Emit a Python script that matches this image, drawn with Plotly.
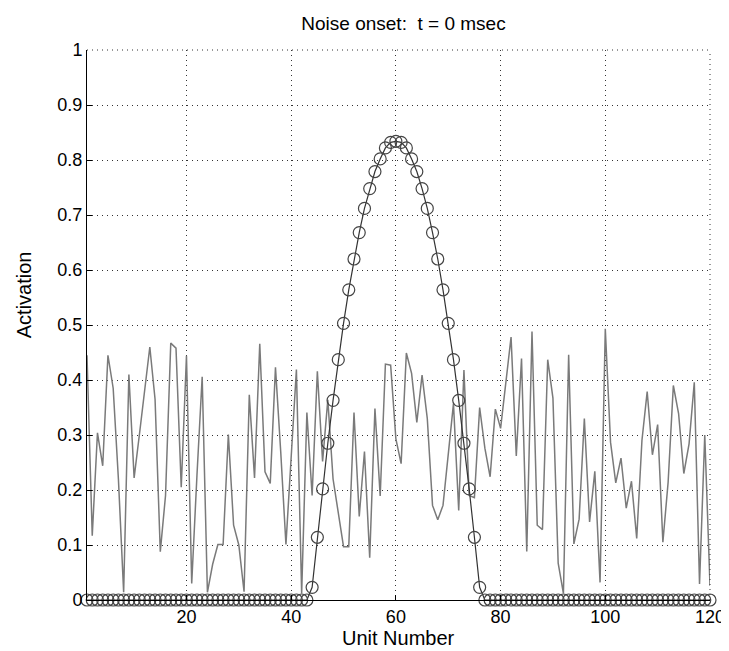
import plotly.graph_objects as go

# unit indices
units = list(range(1, 121))

# noise input (gray line)
noise = [0.445, 0.117, 0.304, 0.244, 0.445, 0.385, 0.22, 0.014, 0.41, 0.222,
         0.30, 0.385, 0.46, 0.365, 0.088, 0.19, 0.467, 0.458, 0.205, 0.444,
         0.03, 0.226, 0.406, 0.014, 0.065, 0.101, 0.101, 0.301, 0.136, 0.1,
         0.015, 0.373, 0.222, 0.466, 0.233, 0.212, 0.423, 0.27, 0.101, 0.26,
         0.419, 0.012, 0.341, 0.19, 0.416, 0.252, 0.364, 0.22, 0.158, 0.097,
         0.097, 0.341, 0.152, 0.27, 0.077, 0.348, 0.189, 0.429, 0.427, 0.293,
         0.248, 0.449, 0.412, 0.323, 0.409, 0.33, 0.172, 0.146, 0.172, 0.26,
         0.357, 0.163, 0.418, 0.19, 0.186, 0.35, 0.276, 0.224, 0.347, 0.312,
         0.39, 0.478, 0.262, 0.439, 0.088, 0.488, 0.136, 0.128, 0.437, 0.367,
         0.067, 0.012, 0.446, 0.102, 0.147, 0.33, 0.142, 0.234, 0.032, 0.493,
         0.287, 0.213, 0.258, 0.167, 0.216, 0.112, 0.29, 0.379, 0.264, 0.319,
         0.105, 0.214, 0.39, 0.339, 0.23, 0.284, 0.396, 0.029, 0.3, 0.026]

# activation bump, units 44..76 (zero elsewhere)
bump = [0.023, 0.114, 0.202, 0.285, 0.363, 0.437, 0.503, 0.564, 0.62, 0.668,
        0.712, 0.748, 0.779, 0.802, 0.822, 0.832, 0.834, 0.832, 0.822, 0.802,
        0.779, 0.748, 0.712, 0.668, 0.62, 0.564, 0.503, 0.437, 0.363, 0.285,
        0.202, 0.114, 0.023]
activation = [0.0] * 43 + bump + [0.0] * 44

x_ticks = [20, 40, 60, 80, 100, 120]
y_ticks = [0, 0.1, 0.2, 0.3, 0.4, 0.5, 0.6, 0.7, 0.8, 0.9, 1]
y_labels = ['0', '0.1', '0.2', '0.3', '0.4', '0.5', '0.6', '0.7', '0.8', '0.9', '1']

fig = go.Figure()

# noise line
fig.add_trace(go.Scatter(x=units, y=noise, mode='lines',
                         line=dict(color='#7a7a7a', width=1.5),
                         hoverinfo='skip'))

# activation with open circles
fig.add_trace(go.Scatter(x=units, y=activation, mode='lines+markers',
                         line=dict(color='#333333', width=1.2),
                         marker=dict(symbol='circle-open', size=12,
                                     color='#444444', line=dict(width=1.2)),
                         cliponaxis=False))

axis_font = dict(family='Liberation Sans, Arial, sans-serif', size=18, color='black')
label_font = dict(family='Liberation Sans, Arial, sans-serif', size=20, color='black')

# dotted frame at top and right, like the grid
for x0, y0, x1, y1 in [(0, 1, 1, 1), (1, 0, 1, 1)]:
    fig.add_shape(type='line', xref='paper', yref='paper',
                  x0=x0, y0=y0, x1=x1, y1=y1,
                  line=dict(color='#333333', width=1, dash='1px,4px'))

# axis titles placed by hand (plot area is 628 x 550 px)
fig.add_annotation(text='Unit Number', xref='paper', yref='paper',
                   x=0.5, y=-(630 - 42 - 550) / 550, xanchor='center', yanchor='middle',
                   showarrow=False, font=label_font)
fig.add_annotation(text='Activation', xref='paper', yref='paper',
                   x=-(79 - 15) / 628, y=0.555, xanchor='center', yanchor='middle',
                   textangle=-90, showarrow=False, font=label_font)

fig.update_layout(
    width=729, height=651,
    margin=dict(l=79, r=22, t=42, b=59),
    plot_bgcolor='white', paper_bgcolor='white',
    showlegend=False,
    font=axis_font,
    title=dict(text='Noise onset:\u00a0\u00a0t = 0 msec', x=0.508, xref='paper',
               y=1 - 15 / 651, yanchor='middle', font=dict(size=19)),
    xaxis=dict(
        range=[1, 120],
        tickvals=x_ticks,
        showline=True, linecolor='black', linewidth=1,
        ticks='inside', ticklen=5, tickcolor='black',
        showgrid=True, gridcolor='#333333', gridwidth=1, griddash='1px,4px',
        zeroline=False,
        tickfont=axis_font,
    ),
    yaxis=dict(
        range=[0, 1],
        tickvals=y_ticks, ticktext=y_labels,
        showline=True, linecolor='black', linewidth=1,
        ticks='inside', ticklen=5, tickcolor='black',
        showgrid=True, gridcolor='#333333', gridwidth=1, griddash='1px,4px',
        zeroline=False,
        tickfont=axis_font,
    ),
)

fig.write_html("out.html")
